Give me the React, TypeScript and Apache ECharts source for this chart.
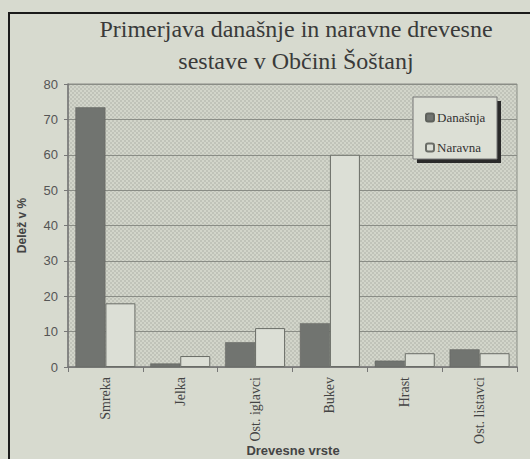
import React, { useEffect, useRef } from "react";
import * as echarts from "echarts";

const categories = ["Smreka", "Jelka", "Ost. iglavci", "Bukev", "Hrast", "Ost. listavci"];
const danasnja = [73.4, 1, 7, 12.4, 1.8, 5];
const naravna = [18, 3.1, 11, 60, 3.9, 3.9];
const seriesNames = ["Današnja", "Naravna"];
const titleText = "Primerjava današnje in naravne drevesne\nsestave v Občini Šoštanj";
const xAxisName = "Drevesne vrste";
const yAxisName = "Delež v %";

function makePattern(): HTMLCanvasElement {
  const c = document.createElement("canvas");
  c.width = 4;
  c.height = 4;
  const ctx = c.getContext("2d")!;
  ctx.fillStyle = "#d2d5ca";
  ctx.fillRect(0, 0, 4, 4);
  ctx.fillStyle = "#c0c3b9";
  ctx.fillRect(0, 0, 2, 2);
  ctx.fillRect(2, 2, 2, 2);
  return c;
}

export default function App() {
  const ref = useRef<HTMLDivElement>(null);
  useEffect(() => {
    document.body.style.margin = "0";
    const chart = echarts.init(ref.current!, null, { renderer: "svg" });
    chart.setOption({
      animation: false,
      backgroundColor: "#d7dacf",
      title: {
        text: titleText,
        left: 291,
        textAlign: "center",
        top: 8,
        textStyle: {
          fontFamily: "Liberation Serif",
          fontWeight: "normal",
          fontSize: 24,
          lineHeight: 32,
          color: "#3a3a3a",
        },
      },
      graphic: [
        {
          type: "rect",
          shape: { x: 9, y: 13, width: 600, height: 600 },
          style: { fill: "none", stroke: "#1a1a1a", lineWidth: 2 },
          z: 0,
        },
        {
          type: "rect",
          shape: { x: 417, y: 101, width: 84, height: 62 },
          style: { fill: "#2a2a2a" },
          z: 3,
        },
        {
          type: "rect",
          shape: { x: 413, y: 97, width: 84, height: 62 },
          style: { fill: "#dcdfd5", stroke: "#777", lineWidth: 1 },
          z: 3,
        },
        {
          type: "text",
          x: 293,
          y: 450,
          style: {
            text: xAxisName,
            fontFamily: "Liberation Sans",
            fontWeight: "bold",
            fontSize: 13,
            fill: "#444",
            align: "center",
            verticalAlign: "middle",
          },
          z: 5,
        },
      ],
      legend: {
        data: seriesNames,
        orient: "vertical",
        left: 420,
        top: 106,
        itemWidth: 8,
        itemHeight: 8,
        itemGap: 17,
        z: 10,
        textStyle: { fontFamily: "Liberation Serif", fontSize: 13, color: "#333", padding: [0, 0, 0, -2] },
      },
      grid: {
        left: 68,
        right: 13,
        top: 84,
        bottom: 92,
        outerBoundsMode: "none",
        containLabel: false,
        show: true,
        borderColor: "#8a8d86",
        borderWidth: 1,
        backgroundColor: { image: makePattern(), repeat: "repeat" } as any,
      },
      xAxis: {
        type: "category",
        data: categories,
        axisLine: { lineStyle: { color: "#777", width: 1.5 } },
        axisTick: { show: true, length: 5, inside: false, lineStyle: { color: "#777" } },
        axisLabel: {
          rotate: 90,
          fontFamily: "Liberation Serif",
          fontSize: 14,
          color: "#444",
          margin: 10,
        },
      },
      yAxis: {
        type: "value",
        min: 0,
        max: 80,
        interval: 10,
        name: yAxisName,
        nameLocation: "middle",
        nameGap: 40,
        nameTextStyle: { fontFamily: "Liberation Sans", fontWeight: "bold", fontSize: 12, color: "#444" },
        axisLine: { show: true, lineStyle: { color: "#777", width: 1.5 } },
        axisTick: { show: true, length: 4, lineStyle: { color: "#777" } },
        axisLabel: { fontFamily: "Liberation Sans", fontSize: 13, color: "#555", margin: 10 },
        splitLine: { lineStyle: { color: "#8a8d86", width: 1 } },
      },
      series: [
        {
          name: seriesNames[0],
          type: "bar",
          data: danasnja,
          barWidth: 30,
          barGap: "0%",
          itemStyle: { color: "#717470", borderColor: "#5e615c", borderWidth: 0.5 },
        },
        {
          name: seriesNames[1],
          type: "bar",
          data: naravna,
          barWidth: 30,
          barGap: "0%",
          itemStyle: { color: "#dcdfd6", borderColor: "#6a6d67", borderWidth: 1 },
        },
      ],
    });
    return () => chart.dispose();
  }, []);
  return <div ref={ref} style={{ width: 530, height: 459 }} />;
}
